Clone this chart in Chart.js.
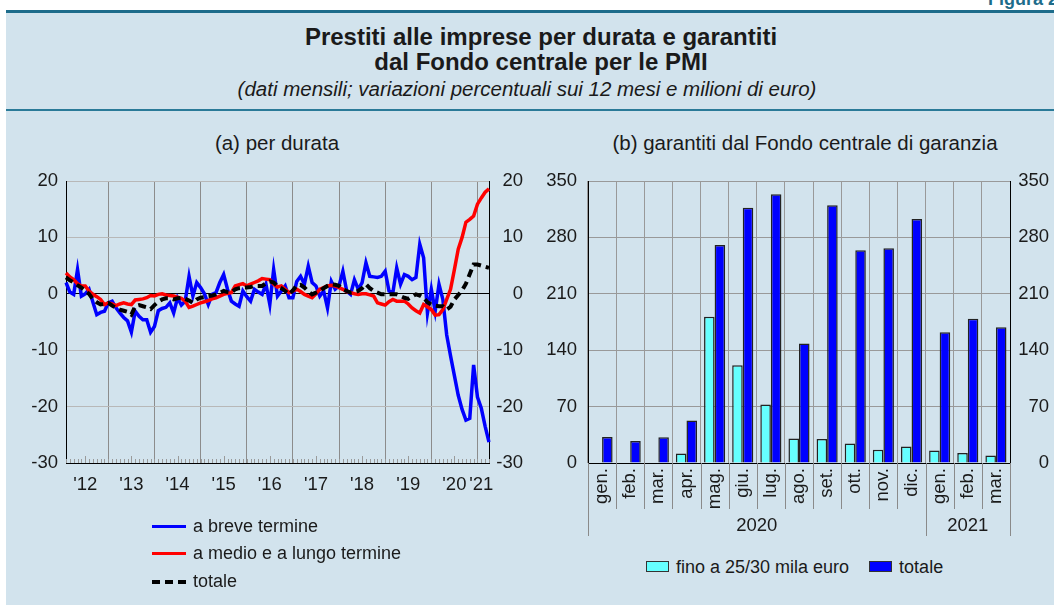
<!DOCTYPE html>
<html><head><meta charset="utf-8">
<script src="https://cdn.jsdelivr.net/npm/chart.js@4.4.1/dist/chart.umd.min.js"></script>
<style>
html,body{margin:0;padding:0;}
body{width:1054px;height:605px;position:relative;overflow:hidden;background:#fff;font-family:"Liberation Sans",Arial,sans-serif;color:#1a1a1a;}
#panel{position:absolute;left:6px;top:10px;width:1048px;height:595px;background:#d2e3ed;border-top:3px solid #1d6c8b;}
#sep{position:absolute;left:6px;top:109px;width:1048px;height:2px;background:#2a7a98;}
.t{position:absolute;white-space:nowrap;text-align:center;}
#fig{position:absolute;right:-4px;top:-10px;font-weight:bold;font-size:18px;line-height:18px;color:#1d6c8b;}
#title1,#title2{left:0;width:1082px;font-weight:bold;font-size:24px;line-height:26px;}
#title1{top:24px;}
#title2{top:49px;}
#sub{left:0;width:1054px;top:77px;font-style:italic;font-size:20.5px;line-height:24px;}
#ta{left:77px;width:400px;top:131px;font-size:20.5px;line-height:24px;}
#tb{left:555px;width:500px;top:131px;font-size:20.5px;line-height:24px;}
#ca{position:absolute;left:0;top:120px;}
#cb{position:absolute;left:540px;top:120px;}
.lg{position:absolute;font-size:18px;line-height:20px;white-space:nowrap;}
.sw{position:absolute;left:0;top:9px;width:34px;height:0;}
.lgb{position:absolute;top:557px;font-size:18px;line-height:20px;white-space:nowrap;}
.box{display:inline-block;width:21px;height:9px;border:1px solid #333;vertical-align:middle;margin-right:7px;position:relative;top:-2px;}
</style>
</head><body>
<div id="panel"></div>
<div id="sep"></div>
<div id="fig">Figura 2</div>
<div class="t" id="title1">Prestiti alle imprese per durata e garantiti</div>
<div class="t" id="title2">dal Fondo centrale per le PMI</div>
<div class="t" id="sub">(dati mensili; variazioni percentuali sui 12 mesi e milioni di euro)</div>
<div class="t" id="ta">(a) per durata</div>
<div class="t" id="tb">(b) garantiti dal Fondo centrale di garanzia</div>
<canvas id="ca" width="540" height="400"></canvas>
<canvas id="cb" width="514" height="430"></canvas>

<div class="lg" style="left:152px;top:516px;"><span class="sw" style="border-top:3.5px solid #0000ff;"></span><span style="margin-left:41px;">a breve termine</span></div>
<div class="lg" style="left:152px;top:543px;"><span class="sw" style="border-top:3.5px solid #ff0000;"></span><span style="margin-left:41px;">a medio e a lungo termine</span></div>
<div class="lg" style="left:152px;top:571px;"><span class="sw" style="border-top:4px dashed #000;"></span><span style="margin-left:41px;">totale</span></div>

<div class="lgb" style="left:646px;"><span class="box" style="background:#66ffff;"></span>fino a 25/30 mila euro<span class="box" style="background:#0000ff;margin-left:20px;"></span>totale</div>

<script>
// ---------- Panel (a): monthly series, Feb 2012 - Apr 2021 ----------
const months = [];
for (let y = 2012, m = 2; !(y === 2021 && m === 5);) {
  months.push(y + '-' + String(m).padStart(2, '0'));
  m++; if (m > 12) { m = 1; y++; }
}
const yearTickMonths = ['2012-07','2013-07','2014-07','2015-07','2016-07','2017-07','2018-07','2019-07','2020-07','2021-02'];
const yearTickLabels = ["'12","'13","'14","'15","'16","'17","'18","'19","'20","'21"];

const breveTermine = [2.0,0.3,-0.1,4.3,-0.4,0.0,0.8,-1.5,-3.7,-3.3,
  -3.1,-1.6,-1.3,-2.5,-3.4,-4.2,-4.8,-6.8,-3.1,-4.0,
  -4.6,-4.6,-6.8,-5.8,-3.0,-2.6,-2.4,-1.6,-3.4,-0.7,
  -2.0,-1.3,3.1,-0.4,2.0,1.1,0.0,-1.9,-0.1,0.2,
  2.0,3.4,0.8,-1.3,-1.8,-2.2,0.5,-0.5,-1.3,0.8,
  0.3,-0.1,1.7,-1.9,4.3,-0.4,0.5,1.4,-0.7,-0.7,
  2.2,3.1,1.7,4.9,2.0,1.4,-0.4,0.5,-2.5,2.2,
  0.8,1.4,4.0,0.5,-0.1,2.5,0.8,2.0,5.5,3.1,
  3.0,2.9,3.1,4.0,0.5,0.2,4.6,1.7,3.4,3.1,
  2.5,2.9,8.8,6.4,-3.4,0.8,-3.1,1.7,-1.0,-7.3,
  -11.0,-14.5,-18.0,-20.5,-22.4,-22.1,-12.6,-18.3,-20.3,-23.5,
  -26.3];
const medioLungo = [3.7,3.0,2.5,1.8,1.4,1.4,0.5,-0.1,-0.5,-1.0,
  -1.9,-1.6,-1.8,-2.1,-1.8,-1.6,-1.8,-1.9,-1.1,-1.0,
  -0.9,-0.7,-0.3,-0.4,-0.1,0.0,-0.2,-0.3,-0.4,-0.6,
  -0.8,-1.3,-2.4,-2.2,-1.9,-1.6,-1.4,-1.2,-0.9,-0.7,
  -0.4,-0.1,0.1,0.2,1.4,1.6,1.8,1.4,1.7,2.0,
  2.3,2.7,2.6,2.5,1.7,1.2,1.4,0.8,0.2,0.5,
  0.8,0.4,-0.1,-0.4,-0.7,0.0,0.8,1.1,1.4,1.5,
  1.4,1.1,0.8,0.4,0.2,0.0,-0.1,0.0,0.0,-0.2,
  -0.4,-1.6,-1.8,-2.0,-1.4,-1.0,-1.3,-1.3,-1.3,-1.8,
  -2.5,-3.0,-3.4,-1.9,-2.3,-2.8,-3.8,-3.7,-2.8,-1.0,
  0.8,4.3,7.9,10.0,12.7,13.2,13.8,15.9,17.0,18.0,
  18.6];
const totale = [2.9,2.4,2.0,1.5,1.1,0.5,0.0,-1.0,-1.5,-1.9,
  -1.8,-1.6,-2.1,-2.5,-2.8,-3.0,-3.2,-3.7,-2.2,-2.0,
  -2.2,-2.4,-2.7,-2.0,-1.4,-1.0,-0.8,-0.8,-1.0,-0.8,
  -0.7,-0.9,-1.2,-1.6,-1.0,-0.7,-0.6,-0.4,-0.3,-0.1,
  0.2,0.5,0.3,0.2,0.8,1.0,1.1,1.1,1.2,1.4,
  1.4,1.4,1.9,2.2,2.0,1.4,1.0,0.5,-0.1,0.6,
  1.5,1.6,1.1,0.4,-0.1,0.2,0.5,1.0,1.4,1.7,
  1.6,1.4,0.8,0.5,0.2,0.3,0.5,1.0,1.7,1.0,
  0.5,0.2,-0.1,-0.1,-0.1,-0.1,-0.1,-0.4,-0.7,-0.9,
  -0.5,-0.1,-0.3,-0.7,-1.5,-1.9,-2.1,-2.2,-2.2,-2.8,
  -2.3,-1.0,-0.2,0.6,1.8,3.5,5.2,5.2,5.0,4.8,
  4.6];

// ---------- Panel (b): monthly guarantees (millions of euro) ----------
const barMonths = ['gen.','feb.','mar.','apr.','mag.','giu.','lug.','ago.','set.','ott.','nov.','dic.','gen.','feb.','mar.'];
const yearLabels = ['2020','2021'];
const yearSpans = [12, 3];
const fino30mila = [null,null,null,11.7,181.4,121.4,72.5,30.3,29.8,24.1,16.6,20.4,15.4,12.4,9.2];
const totaleGaranzie = [32.3,27.3,32.0,52.7,270.5,316.8,333.4,148.3,319.8,263.9,266.4,302.8,162.4,178.9,168.6];

Chart.defaults.font.family = '"Liberation Sans", Arial, sans-serif';
Chart.defaults.font.size = 18.5;
Chart.defaults.color = '#1a1a1a';
Chart.defaults.animation = false;

const monthTicks = {
  id: 'monthTicks',
  beforeDatasetsDraw(chart) {
    const xs = chart.scales.x, ctx = chart.ctx, b = chart.chartArea.bottom;
    ctx.save(); ctx.strokeStyle = '#9a9a9a'; ctx.lineWidth = 1;
    months.forEach((mk, i) => {
      const x = Math.round(xs.getPixelForValue(i)) + 0.5;
      const len = mk.endsWith('-07') ? 7 : 4;
      ctx.beginPath(); ctx.moveTo(x, b); ctx.lineTo(x, b - len); ctx.stroke();
    });
    ctx.restore();
  }
};

new Chart(document.getElementById('ca'), {
  type: 'line',
  data: {
    labels: months,
    datasets: [
      { label: 'totale', data: totale, borderColor: '#000', borderWidth: 4, borderDash: [8, 5], pointRadius: 0, tension: 0, order: 0 },
      { label: 'a medio e a lungo termine', data: medioLungo, borderColor: '#ff0000', borderWidth: 3.5, pointRadius: 0, tension: 0, order: 1 },
      { label: 'a breve termine', data: breveTermine, borderColor: '#0000ff', borderWidth: 3.5, pointRadius: 0, tension: 0, order: 2 }
    ]
  },
  options: {
    responsive: false,
    devicePixelRatio: 1,
    layout: { padding: { top: 61, right: 17, left: 0, bottom: 0 } },
    plugins: { legend: { display: false }, tooltip: { enabled: false } },
    scales: {
      x: {
        type: 'category', offset: false,
        border: { color: '#000', width: 1 },
        grid: { drawTicks: false, color: (c) => { const l = months[c.index]; return l && l.endsWith('-01') ? '#8c8c8c' : 'rgba(0,0,0,0)'; } },
        ticks: { autoSkip: false, maxRotation: 0, minRotation: 0, padding: 11,
          callback: (v, i) => { const k = yearTickMonths.indexOf(months[i]); return k >= 0 ? yearTickLabels[k] : ''; } },
        afterFit: (s) => { s.height = 57; }
      },
      y: {
        position: 'left', min: -30, max: 20,
        border: { color: '#000', width: 1 },
        grid: { drawTicks: false, color: (c) => c.tick.value === 0 ? '#000' : '#b8b8b8' },
        ticks: { stepSize: 10, padding: 8 },
        afterFit: (s) => { s.width = 66; }
      },
      y2: {
        position: 'right', min: -30, max: 20,
        border: { color: '#000', width: 1 },
        grid: { display: false, drawTicks: false },
        ticks: { stepSize: 10, crossAlign: 'far' },
        afterFit: (s) => { s.width = 34; }
      }
    }
  },
  plugins: [monthTicks]
});

const groupLines = {
  id: 'groupLines',
  afterDraw(chart) {
    const xs = chart.scales.x, ctx = chart.ctx, b = chart.chartArea.bottom;
    const w = xs.getPixelForValue(1) - xs.getPixelForValue(0);
    const x0 = xs.getPixelForValue(0) - w / 2;
    const bounds = [0]; let acc = 0; yearSpans.forEach(s => { acc += s; bounds.push(acc); });
    ctx.save(); ctx.strokeStyle = '#8a8a8a'; ctx.lineWidth = 1;
    for (let i = 0; i <= barMonths.length; i++) {
      const x = Math.round(x0 + i * w) + 0.5;
      const long = bounds.includes(i);
      ctx.beginPath(); ctx.moveTo(x, b); ctx.lineTo(x, b + (long ? 73 : 46)); ctx.stroke();
    }
    ctx.fillStyle = '#1a1a1a'; ctx.font = '18.5px "Liberation Sans", Arial, sans-serif';
    ctx.textAlign = 'center'; ctx.textBaseline = 'middle';
    yearLabels.forEach((lab, k) => { ctx.fillText(lab, x0 + (bounds[k] + bounds[k + 1]) / 2 * w, b + 63); });
    ctx.restore();
  }
};

new Chart(document.getElementById('cb'), {
  type: 'bar',
  data: {
    labels: barMonths,
    datasets: [
      { label: 'fino a 25/30 mila euro', data: fino30mila, backgroundColor: '#66ffff', borderColor: '#222', borderWidth: 1.5, categoryPercentage: 0.75, barPercentage: 1.0 },
      { label: 'totale', data: totaleGaranzie, backgroundColor: '#0000ff', borderColor: '#222', borderWidth: 1.5, categoryPercentage: 0.75, barPercentage: 1.0 }
    ]
  },
  options: {
    responsive: false,
    devicePixelRatio: 1,
    layout: { padding: { top: 61, right: 5, left: 0, bottom: 0 } },
    plugins: { legend: { display: false }, tooltip: { enabled: false } },
    scales: {
      x: {
        border: { color: '#000', width: 1 },
        grid: { drawTicks: false, color: '#999', offset: true },
        ticks: { autoSkip: false, maxRotation: 90, minRotation: 90, padding: 5 },
        afterFit: (s) => { s.height = 87; }
      },
      y: {
        position: 'left', min: 0, max: 350,
        border: { color: '#000', width: 1 },
        grid: { drawTicks: false, color: '#999' },
        ticks: { stepSize: 70, padding: 11 },
        afterFit: (s) => { s.width = 48; }
      },
      y2: {
        position: 'right', min: 0, max: 350,
        border: { color: '#000', width: 1 },
        grid: { display: false, drawTicks: false },
        ticks: { stepSize: 70, crossAlign: 'far' },
        afterFit: (s) => { s.width = 39; }
      }
    }
  },
  plugins: [groupLines]
});
</script>
</body></html>
